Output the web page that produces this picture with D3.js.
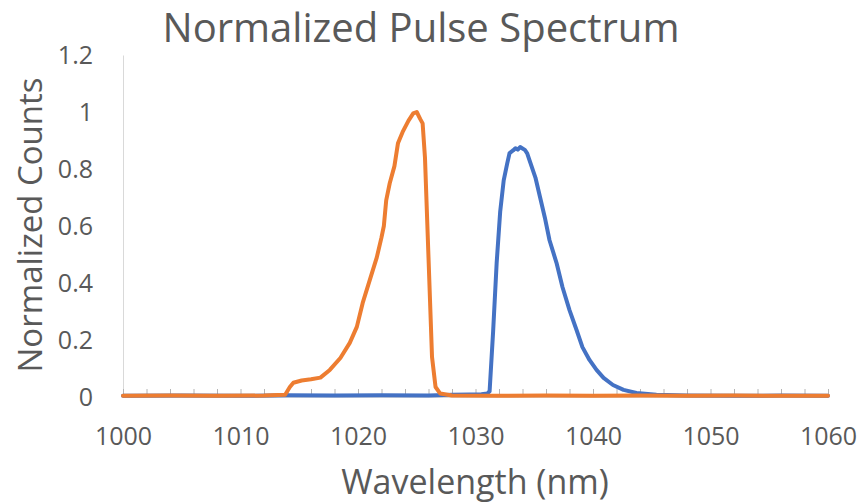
<!DOCTYPE html>
<html>
<head>
<meta charset="utf-8">
<script src="https://cdn.jsdelivr.net/npm/d3@7"></script>
<style>
  html, body { margin: 0; padding: 0; background: #fff; }
  svg { display: block; }
  text { font-family: "Open Sans", "DejaVu Sans", sans-serif; fill: #595959; }
</style>
</head>
<body>
<svg id="chart" width="861" height="504"></svg>
<script>
// Spectrum of the longer-wavelength pulse (nm, normalized counts)
const blueWavelength = [1000, 1005, 1010, 1014, 1018, 1022, 1026, 1028, 1029.5, 1030.5, 1031.0,
  1031.2, 1031.5, 1031.8, 1032.1, 1032.4, 1032.7, 1032.9, 1033.2, 1033.4, 1033.6, 1033.8, 1034.0,
  1034.2, 1034.4, 1034.6, 1035.1, 1035.5, 1035.9, 1036.3, 1036.6, 1036.9, 1037.4, 1038.0, 1038.6,
  1039.1, 1039.7, 1040.3, 1040.9, 1041.7, 1042.6, 1043.7, 1045.4, 1048, 1052, 1056, 1060];
const blueCounts = [0.004, 0.005, 0.004, 0.006, 0.005, 0.006, 0.005, 0.008, 0.009, 0.010, 0.012,
  0.02, 0.23, 0.47, 0.65, 0.76, 0.82, 0.856, 0.865, 0.873, 0.868, 0.877, 0.872,
  0.867, 0.855, 0.83, 0.77, 0.70, 0.63, 0.55, 0.51, 0.47, 0.386, 0.305, 0.235,
  0.175, 0.13, 0.095, 0.067, 0.042, 0.025, 0.014, 0.008, 0.005, 0.004, 0.005, 0.004];

// Spectrum of the shorter-wavelength pulse (nm, normalized counts)
const orangeWavelength = [1000, 1004, 1008, 1012, 1013.8, 1014.2, 1014.5, 1015.2, 1016.0, 1016.8,
  1017.6, 1018.5, 1019.3, 1019.9, 1020.4, 1021.0, 1021.6, 1022.0, 1022.2, 1022.4, 1022.7, 1023.1,
  1023.4, 1023.8, 1024.3, 1024.7, 1025.0, 1025.3, 1025.5, 1025.7, 1026.0, 1026.3, 1026.6, 1027.0,
  1028, 1032, 1036, 1040, 1044, 1048, 1052, 1056, 1060];
const orangeCounts = [0.004, 0.005, 0.004, 0.005, 0.008, 0.035, 0.05, 0.058, 0.062, 0.068,
  0.095, 0.137, 0.19, 0.246, 0.33, 0.41, 0.49, 0.56, 0.60, 0.69, 0.75, 0.81,
  0.89, 0.93, 0.97, 0.995, 1.0, 0.975, 0.96, 0.84, 0.49, 0.14, 0.035, 0.012,
  0.005, 0.004, 0.005, 0.004, 0.005, 0.004, 0.005, 0.004, 0.004];

const xTicks = [1000, 1010, 1020, 1030, 1040, 1050, 1060];
const yTicks = [0, 0.2, 0.4, 0.6, 0.8, 1, 1.2];

const chartTitle = "Normalized Pulse Spectrum";
const xTitle = "Wavelength (nm)";
const yTitle = "Normalized Counts";

const svg = d3.select("#chart");
const plot = { left: 123, right: 828, top: 55, bottom: 397 };

const x = d3.scaleLinear().domain([1000, 1060]).range([plot.left, plot.right]);
const y = d3.scaleLinear().domain([0, 1.2]).range([plot.bottom, plot.top]);

// Vertical axis line and labels
const yAxis = svg.append("g")
  .attr("transform", `translate(${plot.left},0)`)
  .call(d3.axisLeft(y).tickValues(yTicks).tickSize(0).tickPadding(30)
    .tickFormat(d => d3.format("~g")(d)));
yAxis.select(".domain").attr("stroke", "#d9d9d9").attr("stroke-width", 1);
yAxis.selectAll("text").style("font-size", "25px").attr("fill", "#595959")
  .attr("font-family", null);

// Minor inside ticks along the horizontal axis every 2 nm
const minor = d3.range(1000, 1061, 2);
svg.append("g")
  .attr("transform", `translate(0,${plot.bottom})`)
  .call(d3.axisBottom(x).tickValues(minor).tickSizeInner(-8).tickSizeOuter(0).tickFormat(""))
  .call(g => g.select(".domain").remove())
  .selectAll("line").attr("stroke", "#b4b4b4").attr("stroke-width", 1);

// Horizontal axis line and labels
const xAxis = svg.append("g")
  .attr("transform", `translate(0,${plot.bottom})`)
  .call(d3.axisBottom(x).tickValues(xTicks).tickSize(0).tickPadding(30).tickFormat(d3.format("d")));
xAxis.select(".domain").attr("stroke", "#d9d9d9").attr("stroke-width", 1);
xAxis.selectAll("text").style("font-size", "25px").attr("fill", "#595959")
  .attr("font-family", null);

// Series lines
const line = d3.line().x(d => x(d[0])).y(d => y(d[1])).curve(d3.curveLinear);
const blueData = d3.zip(blueWavelength, blueCounts);
const orangeData = d3.zip(orangeWavelength, orangeCounts);

svg.append("path").datum(blueData)
  .attr("d", line).attr("fill", "none")
  .attr("stroke", "#4472C4").attr("stroke-width", 4)
  .attr("stroke-linejoin", "round").attr("stroke-linecap", "round");

svg.append("path").datum(orangeData)
  .attr("d", line).attr("fill", "none")
  .attr("stroke", "#ED7D31").attr("stroke-width", 4)
  .attr("stroke-linejoin", "round").attr("stroke-linecap", "round");

// Titles
svg.append("text")
  .attr("x", 421).attr("y", 42)
  .attr("text-anchor", "middle")
  .style("font-size", "40px")
  .text(chartTitle);

svg.append("text")
  .attr("x", 475).attr("y", 494)
  .attr("text-anchor", "middle")
  .style("font-size", "34px")
  .text(xTitle);

svg.append("text")
  .attr("transform", `translate(42,225) rotate(-90)`)
  .attr("text-anchor", "middle")
  .style("font-size", "33px")
  .text(yTitle);
</script>
</body>
</html>
